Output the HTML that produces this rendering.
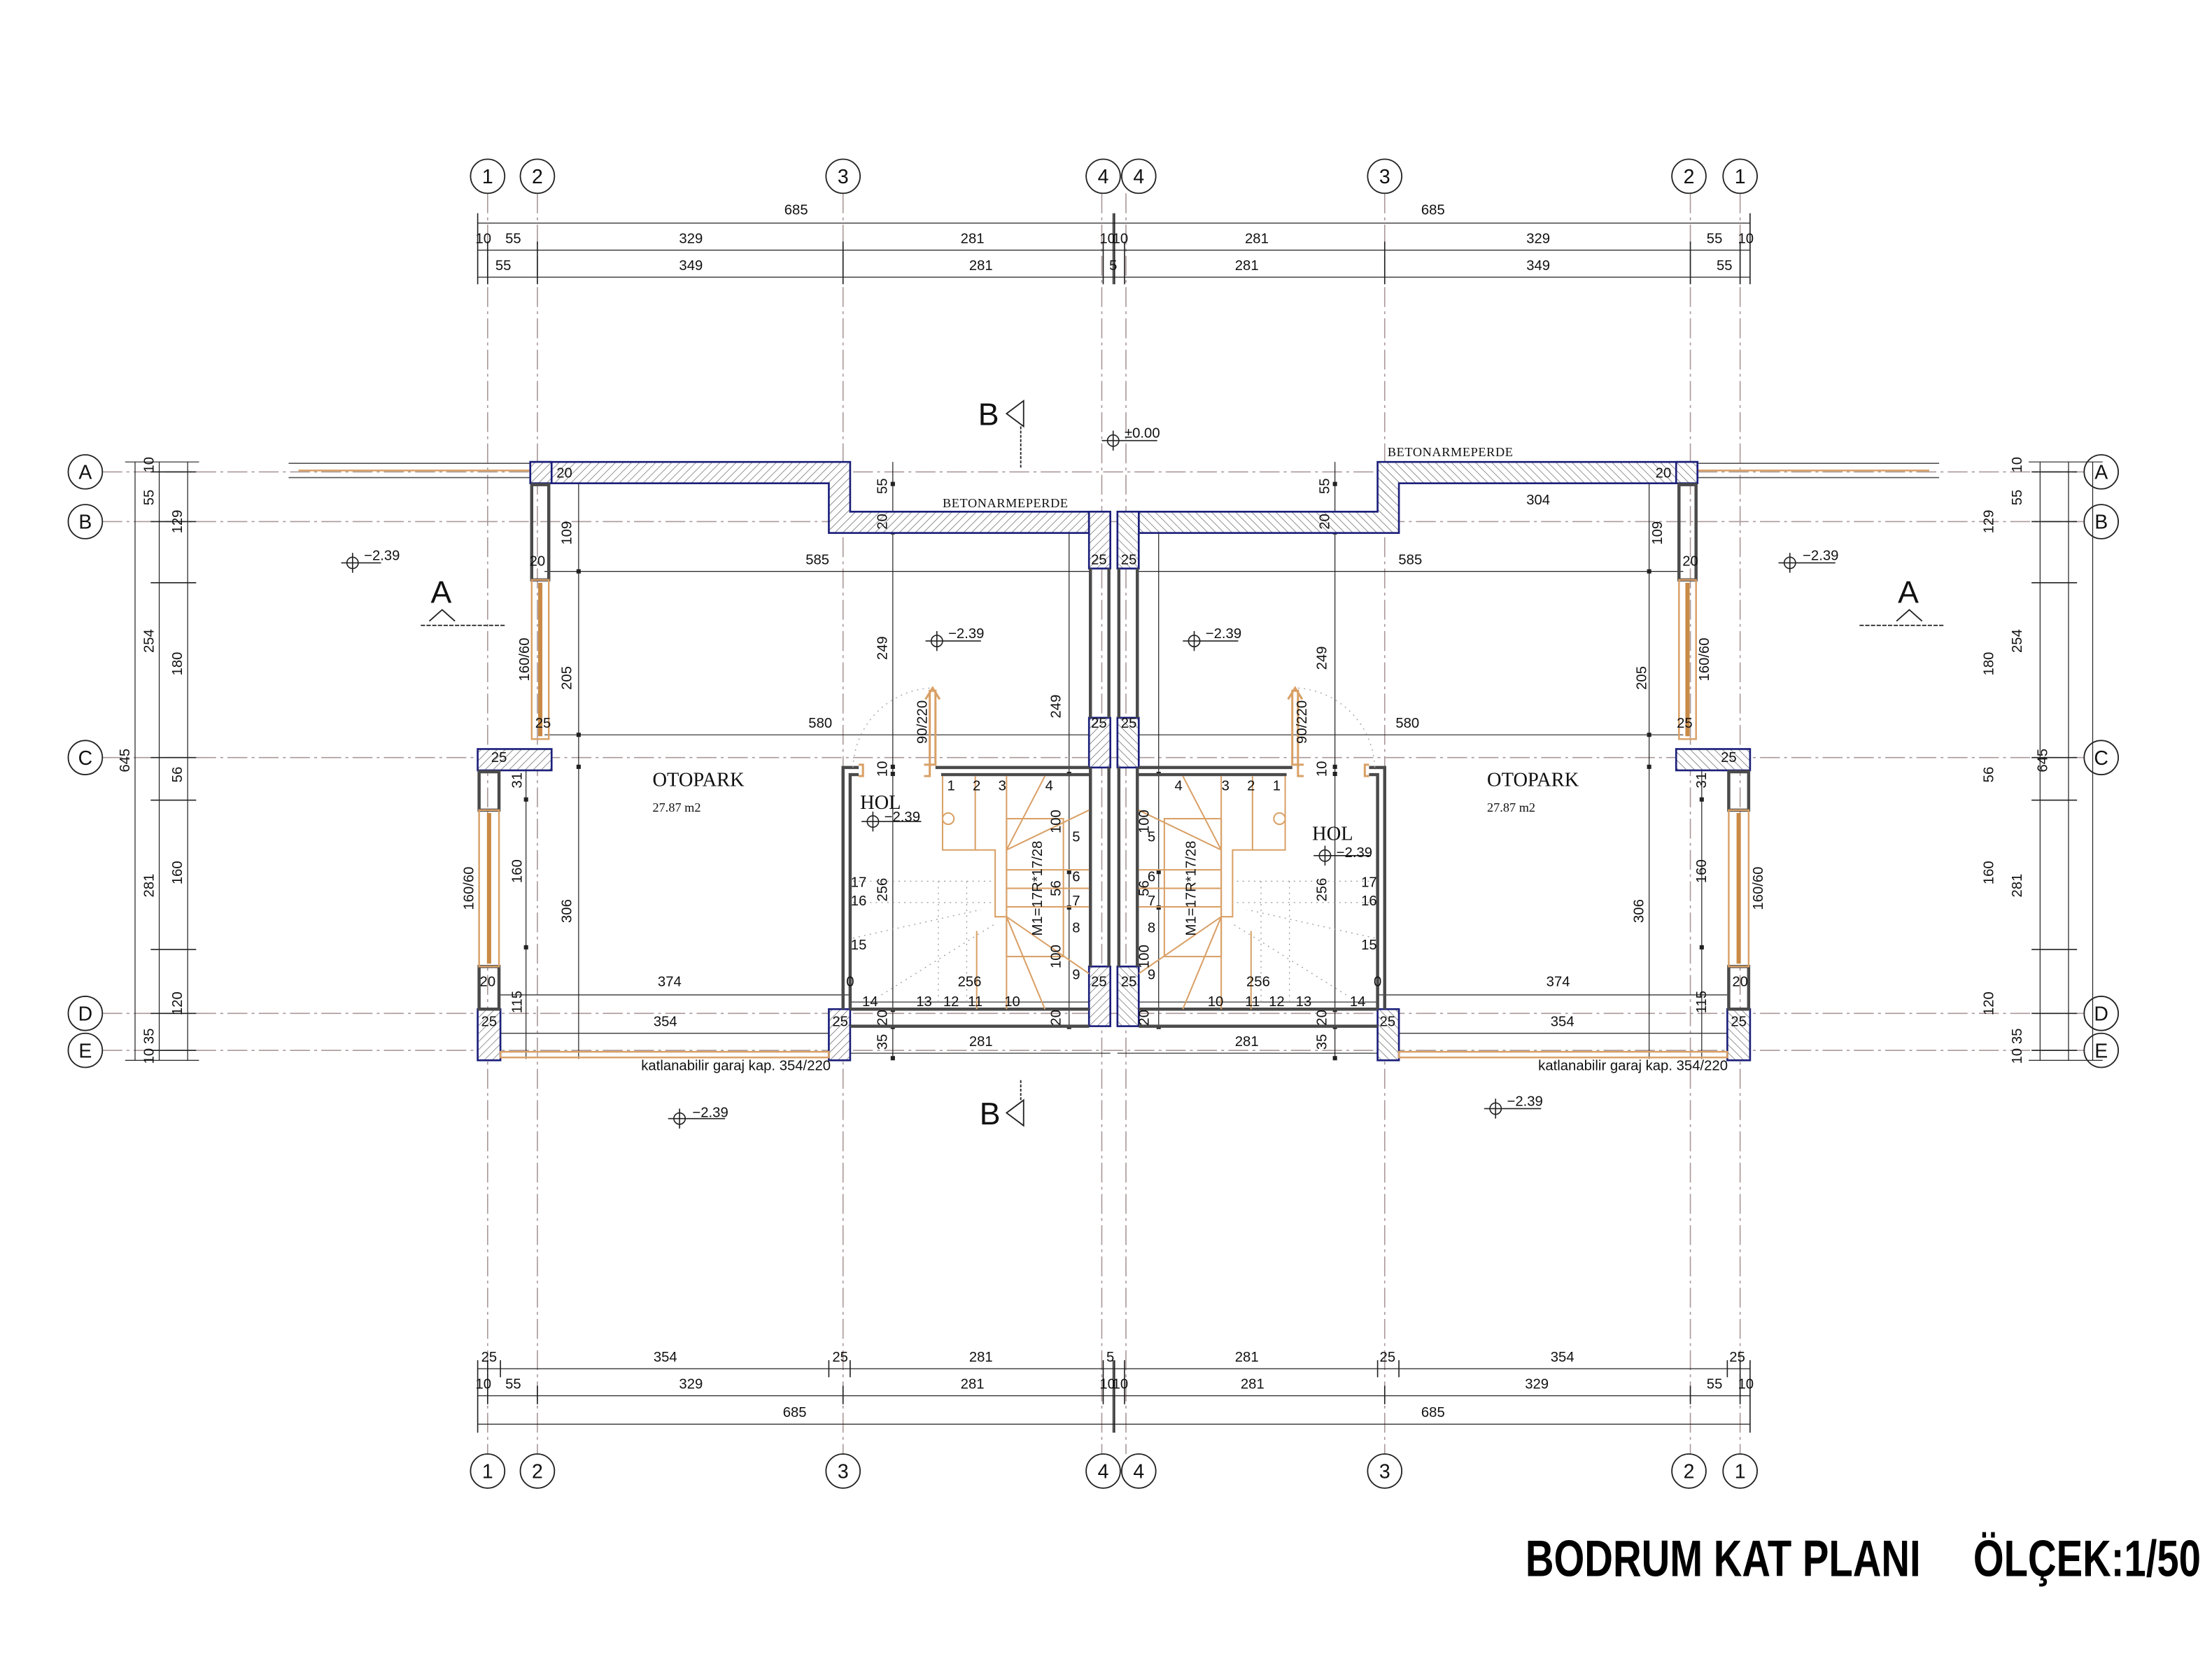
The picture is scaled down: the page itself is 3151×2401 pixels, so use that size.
<!DOCTYPE html>
<html><head><meta charset="utf-8">
<style>
html,body{margin:0;padding:0;background:#fff;}
svg{display:block}
.t{font-family:"Liberation Sans Narrow","Liberation Sans",sans-serif;font-size:10px;fill:#111}
.s{font-family:"Liberation Serif",serif;fill:#111}
.g{font-family:"Liberation Sans",sans-serif;font-size:14px;fill:#111}
</style></head><body>
<svg width="3151" height="2401" viewBox="0 0 1551 1182" preserveAspectRatio="none" xmlns="http://www.w3.org/2000/svg">
<defs>
<pattern id="h" width="4" height="4" patternUnits="userSpaceOnUse" patternTransform="rotate(45)">
<rect width="4" height="4" fill="#fff"/><line x1="0" y1="0" x2="0" y2="4" stroke="#888" stroke-width="0.9"/>
</pattern>
<g id="L">
 <!-- external lines -->
 <line x1="203" y1="326" x2="373" y2="326" stroke="#555" stroke-width="0.8"/>
 <line x1="203" y1="336" x2="373" y2="336" stroke="#555" stroke-width="0.8"/>
 <line x1="210" y1="331" x2="373" y2="331" stroke="#d9a066" stroke-width="1.2"/>
 <!-- interior dim lines -->
 <g stroke="#222" stroke-width="0.6" fill="none">
  <line x1="383" y1="402" x2="766" y2="402"/>
  <line x1="383" y1="517" x2="766" y2="517"/>
  <line x1="352" y1="700" x2="598" y2="700"/>
  <line x1="352" y1="727" x2="583" y2="727"/>
  <line x1="598" y1="741" x2="781" y2="741"/>
  <line x1="407" y1="340" x2="407" y2="745"/>
  <line x1="370" y1="542" x2="370" y2="745"/>
  <line x1="628" y1="325" x2="628" y2="745"/>
  <line x1="752" y1="375" x2="752" y2="722"/>
  <line x1="598" y1="705" x2="766" y2="705"/>
 </g>
 <g fill="#222">
  <rect x="405.5" y="400.5" width="3" height="3"/><rect x="405.5" y="515.5" width="3" height="3"/><rect x="405.5" y="538" width="3" height="3"/>
  <rect x="368.5" y="561" width="3" height="3"/><rect x="368.5" y="665" width="3" height="3"/>
  <rect x="626.5" y="339" width="3" height="3"/><rect x="626.5" y="373" width="3" height="3"/><rect x="626.5" y="538" width="3" height="3"/><rect x="626.5" y="543" width="3" height="3"/><rect x="626.5" y="709" width="3" height="3"/><rect x="626.5" y="721" width="3" height="3"/><rect x="626.5" y="743" width="3" height="3"/>
  <rect x="750.5" y="543" width="3" height="3"/><rect x="750.5" y="612" width="3" height="3"/><rect x="750.5" y="637" width="3" height="3"/><rect x="750.5" y="721" width="3" height="3"/>
 </g>
 <!-- hatched walls -->
 <g fill="url(#h)" stroke="#1b1f7a" stroke-width="1.3">
  <polygon points="373,325 598,325 598,360 766,360 766,375 583,375 583,340 373,340"/>
  <rect x="373" y="325" width="15" height="15"/>
  <rect x="766" y="360" width="15" height="40"/>
  <rect x="766" y="505" width="15" height="35"/>
  <rect x="766" y="680" width="15" height="42"/>
  <rect x="336" y="527" width="52" height="15"/>
  <rect x="336" y="710" width="16" height="36"/>
  <rect x="583" y="710" width="15" height="36"/>
 </g>
 <!-- gray walls -->
 <g fill="none" stroke="#4a4a4a" stroke-width="2.2">
  <rect x="374" y="341" width="12" height="67"/>
  <rect x="337" y="543" width="14" height="27"/>
  <rect x="337" y="680" width="14" height="30"/>
  <line x1="767" y1="400" x2="767" y2="505"/><line x1="780" y1="400" x2="780" y2="505"/>
  <line x1="767" y1="540" x2="767" y2="680"/><line x1="780" y1="540" x2="780" y2="680"/>
  <polyline points="604,540 593,540 593,710"/>
  <polyline points="604,545 598,545 598,710"/>
  <line x1="658" y1="540" x2="766" y2="540"/>
  <line x1="662" y1="545" x2="766" y2="545"/>
  <line x1="598" y1="710" x2="766" y2="710"/>
  <line x1="598" y1="722" x2="766" y2="722"/>
 </g>
 <!-- windows -->
 <g fill="none" stroke="#d9a066" stroke-width="1.2">
  <rect x="374" y="408" width="12" height="112"/>
  <rect x="337" y="570" width="14" height="110"/>
  <rect x="352" y="740" width="231" height="4"/>
 </g>
 <line x1="380" y1="410" x2="380" y2="518" stroke="#c98a45" stroke-width="3"/>
 <line x1="344" y1="572" x2="344" y2="678" stroke="#c98a45" stroke-width="3"/>
 <!-- door -->
 <g fill="none" stroke="#d9a066" stroke-width="1.5">
  <rect x="654" y="486" width="4" height="52"/>
  <path d="M651,492 L656,484 L661,492"/>
  <path d="M604,538 h3 v8 h-3"/>
  <path d="M650,538 h4 v8 h-4"/>
 </g>
 <path d="M600,540 A58,58 0 0 1 656,484" fill="none" stroke="#aaa" stroke-width="0.7" stroke-dasharray="1 3"/>
 <!-- stairs -->
 <g fill="none" stroke="#d9a066" stroke-width="1">
  <polyline points="663,546 663,598 700,598 700,645 708,645 708,598"/>
  <line x1="686" y1="546" x2="686" y2="598"/>
  <line x1="708" y1="546" x2="708" y2="598"/>
  <rect x="708" y="576" width="40" height="97"/>
  <line x1="708" y1="598" x2="735" y2="546"/>
  <line x1="708" y1="598" x2="766" y2="570"/>
  <line x1="708" y1="612" x2="766" y2="612"/>
  <line x1="708" y1="625" x2="766" y2="625"/>
  <line x1="708" y1="638" x2="766" y2="638"/>
  <line x1="708" y1="645" x2="766" y2="685"/>
  <line x1="708" y1="645" x2="735" y2="710"/>
  <line x1="708" y1="645" x2="708" y2="710"/>
  <line x1="687" y1="655" x2="687" y2="710"/>
  <circle cx="667" cy="576" r="4"/>
 </g>
 <g stroke="#999" stroke-width="0.6" stroke-dasharray="1 3" fill="none">
  <line x1="600" y1="620" x2="700" y2="620"/><line x1="600" y1="635" x2="700" y2="635"/>
  <line x1="600" y1="660" x2="690" y2="640"/><line x1="620" y1="700" x2="700" y2="650"/>
  <line x1="660" y1="620" x2="660" y2="705"/><line x1="680" y1="620" x2="680" y2="705"/>
 </g>
</g>
</defs>

<!-- grid lines -->
<g stroke="#a99" stroke-width="0.8" stroke-dasharray="14 3 2 3">
 <line x1="343" y1="136" x2="343" y2="1023"/><line x1="378" y1="136" x2="378" y2="1023"/>
 <line x1="593" y1="136" x2="593" y2="1023"/><line x1="775" y1="136" x2="775" y2="1023"/>
 <line x1="792" y1="136" x2="792" y2="1023"/><line x1="974" y1="136" x2="974" y2="1023"/>
 <line x1="1189" y1="136" x2="1189" y2="1023"/><line x1="1224" y1="136" x2="1224" y2="1023"/>
 <line x1="72" y1="332" x2="1466" y2="332"/><line x1="72" y1="367" x2="1466" y2="367"/>
 <line x1="72" y1="533" x2="1466" y2="533"/><line x1="72" y1="713" x2="1466" y2="713"/>
 <line x1="72" y1="739" x2="1466" y2="739"/>
</g>

<use href="#L"/>
<use href="#L" transform="matrix(-1 0 0 1 1567 0)"/>

<!-- grid circles -->
<g fill="#fff" stroke="#222" stroke-width="0.9">
 <circle cx="343" cy="124" r="12"/><circle cx="378" cy="124" r="12"/><circle cx="593" cy="124" r="12"/><circle cx="776" cy="124" r="12"/>
 <circle cx="801" cy="124" r="12"/><circle cx="974" cy="124" r="12"/><circle cx="1188" cy="124" r="12"/><circle cx="1224" cy="124" r="12"/>
 <circle cx="343" cy="1035" r="12"/><circle cx="378" cy="1035" r="12"/><circle cx="593" cy="1035" r="12"/><circle cx="776" cy="1035" r="12"/>
 <circle cx="801" cy="1035" r="12"/><circle cx="974" cy="1035" r="12"/><circle cx="1188" cy="1035" r="12"/><circle cx="1224" cy="1035" r="12"/>
 <circle cx="60" cy="332" r="12"/><circle cx="60" cy="367" r="12"/><circle cx="60" cy="533" r="12"/><circle cx="60" cy="713" r="12"/><circle cx="60" cy="739" r="12"/>
 <circle cx="1478" cy="332" r="12"/><circle cx="1478" cy="367" r="12"/><circle cx="1478" cy="533" r="12"/><circle cx="1478" cy="713" r="12"/><circle cx="1478" cy="739" r="12"/>
</g>
<g class="g" text-anchor="middle">
 <text x="343" y="129">1</text><text x="378" y="129">2</text><text x="593" y="129">3</text><text x="776" y="129">4</text>
 <text x="801" y="129">4</text><text x="974" y="129">3</text><text x="1188" y="129">2</text><text x="1224" y="129">1</text>
 <text x="343" y="1040">1</text><text x="378" y="1040">2</text><text x="593" y="1040">3</text><text x="776" y="1040">4</text>
 <text x="801" y="1040">4</text><text x="974" y="1040">3</text><text x="1188" y="1040">2</text><text x="1224" y="1040">1</text>
 <text x="60" y="337">A</text><text x="60" y="372">B</text><text x="60" y="538">C</text><text x="60" y="718">D</text><text x="60" y="744">E</text>
 <text x="1478" y="337">A</text><text x="1478" y="372">B</text><text x="1478" y="538">C</text><text x="1478" y="718">D</text><text x="1478" y="744">E</text>
</g>

<!-- exterior dimension lines -->
<g stroke="#222" stroke-width="0.6">
 <line x1="336" y1="157" x2="1231" y2="157"/><line x1="336" y1="176" x2="1231" y2="176"/><line x1="336" y1="195" x2="1231" y2="195"/>
 <line x1="336" y1="963" x2="1231" y2="963"/><line x1="336" y1="982" x2="1231" y2="982"/><line x1="336" y1="1002" x2="1231" y2="1002"/>
 <line x1="95" y1="325" x2="95" y2="746"/><line x1="112" y1="325" x2="112" y2="746"/><line x1="132" y1="325" x2="132" y2="746"/>
 <line x1="1472" y1="325" x2="1472" y2="746"/><line x1="1455" y1="325" x2="1455" y2="746"/><line x1="1435" y1="325" x2="1435" y2="746"/>
 <line x1="88" y1="325" x2="140" y2="325"/><line x1="88" y1="746" x2="140" y2="746"/>
 <line x1="1427" y1="325" x2="1479" y2="325"/><line x1="1427" y1="746" x2="1479" y2="746"/>
</g>
<g stroke="#222" stroke-width="0.8">
 <g id="tk">
 <line x1="336" y1="150" x2="336" y2="200"/><line x1="343" y1="170" x2="343" y2="200"/><line x1="378" y1="170" x2="378" y2="200"/>
 <line x1="593" y1="170" x2="593" y2="200"/><line x1="776" y1="170" x2="776" y2="200"/><line x1="783" y1="150" x2="783" y2="200"/>
 <line x1="336" y1="957" x2="336" y2="1008"/><line x1="343" y1="957" x2="343" y2="988"/><line x1="378" y1="975" x2="378" y2="988"/>
 <line x1="352" y1="957" x2="352" y2="969"/><line x1="583" y1="957" x2="583" y2="969"/><line x1="598" y1="957" x2="598" y2="969"/>
 <line x1="593" y1="975" x2="593" y2="988"/><line x1="776" y1="957" x2="776" y2="988"/><line x1="783" y1="957" x2="783" y2="1008"/>
 </g>
 <use href="#tk" transform="matrix(-1 0 0 1 1567 0)"/>
 <line x1="106" y1="332" x2="138" y2="332"/><line x1="106" y1="367" x2="138" y2="367"/><line x1="106" y1="410" x2="138" y2="410"/>
 <line x1="106" y1="533" x2="138" y2="533"/><line x1="106" y1="563" x2="138" y2="563"/><line x1="106" y1="668" x2="138" y2="668"/>
 <line x1="106" y1="713" x2="138" y2="713"/><line x1="106" y1="739" x2="138" y2="739"/>
 <line x1="1429" y1="332" x2="1461" y2="332"/><line x1="1429" y1="367" x2="1461" y2="367"/><line x1="1429" y1="410" x2="1461" y2="410"/>
 <line x1="1429" y1="533" x2="1461" y2="533"/><line x1="1429" y1="563" x2="1461" y2="563"/><line x1="1429" y1="668" x2="1461" y2="668"/>
 <line x1="1429" y1="713" x2="1461" y2="713"/><line x1="1429" y1="739" x2="1461" y2="739"/>
</g>

<!-- top/bottom dim text -->
<g class="t" text-anchor="middle">
 <text x="560" y="151">685</text><text x="1008" y="151">685</text>
 <text x="340" y="171">10</text><text x="361" y="171">55</text><text x="486" y="171">329</text><text x="684" y="171">281</text><text x="779" y="171">10</text>
 <text x="788" y="171">10</text><text x="884" y="171">281</text><text x="1082" y="171">329</text><text x="1206" y="171">55</text><text x="1228" y="171">10</text>
 <text x="354" y="190">55</text><text x="486" y="190">349</text><text x="690" y="190">281</text><text x="783" y="190">5</text>
 <text x="877" y="190">281</text><text x="1082" y="190">349</text><text x="1213" y="190">55</text>
 <text x="344" y="958">25</text><text x="468" y="958">354</text><text x="591" y="958">25</text><text x="690" y="958">281</text><text x="781" y="958">5</text>
 <text x="877" y="958">281</text><text x="976" y="958">25</text><text x="1099" y="958">354</text><text x="1222" y="958">25</text>
 <text x="340" y="977">10</text><text x="361" y="977">55</text><text x="486" y="977">329</text><text x="684" y="977">281</text><text x="779" y="977">10</text>
 <text x="788" y="977">10</text><text x="881" y="977">281</text><text x="1081" y="977">329</text><text x="1206" y="977">55</text><text x="1228" y="977">10</text>
 <text x="559" y="997">685</text><text x="1008" y="997">685</text>
 <!-- interior horizontal -->
 <text x="575" y="397">585</text><text x="992" y="397">585</text>
 <text x="577" y="512">580</text><text x="990" y="512">580</text>
 <text x="471" y="694">374</text><text x="1096" y="694">374</text>
 <text x="468" y="722">354</text><text x="1099" y="722">354</text>
 <text x="682" y="694">256</text><text x="885" y="694">256</text>
 <text x="690" y="736">281</text><text x="877" y="736">281</text>
 <text x="1082" y="355">304</text>
 <text x="397" y="336">20</text><text x="1170" y="336">20</text>
 <text x="378" y="398">20</text><text x="1189" y="398">20</text>
 <text x="382" y="512">25</text><text x="1185" y="512">25</text>
 <text x="351" y="536">25</text><text x="1216" y="536">25</text>
 <text x="343" y="694">20</text><text x="1224" y="694">20</text>
 <text x="344" y="722">25</text><text x="1223" y="722">25</text>
 <text x="591" y="722">25</text><text x="976" y="722">25</text>
 <text x="773" y="397">25</text><text x="794" y="397">25</text>
 <text x="773" y="512">25</text><text x="794" y="512">25</text>
 <text x="773" y="694">25</text><text x="794" y="694">25</text>
 <text x="598" y="694">0</text><text x="969" y="694">0</text>
 <!-- stair numbers -->
 <text x="669" y="556">1</text><text x="687" y="556">2</text><text x="705" y="556">3</text><text x="738" y="556">4</text>
 <text x="757" y="592">5</text><text x="757" y="620">6</text><text x="757" y="637">7</text><text x="757" y="656">8</text><text x="757" y="689">9</text>
 <text x="604" y="624">17</text><text x="604" y="637">16</text><text x="604" y="668">15</text>
 <text x="612" y="708">14</text><text x="650" y="708">13</text><text x="669" y="708">12</text><text x="686" y="708">11</text><text x="712" y="708">10</text>
 <text x="898" y="556">1</text><text x="880" y="556">2</text><text x="862" y="556">3</text><text x="829" y="556">4</text>
 <text x="810" y="592">5</text><text x="810" y="620">6</text><text x="810" y="637">7</text><text x="810" y="656">8</text><text x="810" y="689">9</text>
 <text x="963" y="624">17</text><text x="963" y="637">16</text><text x="963" y="668">15</text>
 <text x="955" y="708">14</text><text x="917" y="708">13</text><text x="898" y="708">12</text><text x="881" y="708">11</text><text x="855" y="708">10</text>
</g>

<!-- rotated dim text -->
<g class="t" text-anchor="middle">
 <text transform="translate(108,327) rotate(-90)">10</text>
 <text transform="translate(108,350) rotate(-90)">55</text>
 <text transform="translate(108,451) rotate(-90)">254</text>
 <text transform="translate(108,623) rotate(-90)">281</text>
 <text transform="translate(108,729) rotate(-90)">35</text>
 <text transform="translate(108,743) rotate(-90)">10</text>
 <text transform="translate(128,367) rotate(-90)">129</text>
 <text transform="translate(128,467) rotate(-90)">180</text>
 <text transform="translate(128,545) rotate(-90)">56</text>
 <text transform="translate(128,614) rotate(-90)">160</text>
 <text transform="translate(128,706) rotate(-90)">120</text>
 <text transform="translate(91,535) rotate(-90)">645</text>
 <text transform="translate(1422,327) rotate(-90)">10</text>
 <text transform="translate(1422,350) rotate(-90)">55</text>
 <text transform="translate(1422,451) rotate(-90)">254</text>
 <text transform="translate(1422,623) rotate(-90)">281</text>
 <text transform="translate(1422,729) rotate(-90)">35</text>
 <text transform="translate(1422,743) rotate(-90)">10</text>
 <text transform="translate(1402,367) rotate(-90)">129</text>
 <text transform="translate(1402,467) rotate(-90)">180</text>
 <text transform="translate(1402,545) rotate(-90)">56</text>
 <text transform="translate(1402,614) rotate(-90)">160</text>
 <text transform="translate(1402,706) rotate(-90)">120</text>
 <text transform="translate(1440,535) rotate(-90)">645</text>
 <!-- interior rotated left -->
 <text transform="translate(402,375) rotate(-90)">109</text>
 <text transform="translate(402,477) rotate(-90)">205</text>
 <text transform="translate(402,641) rotate(-90)">306</text>
 <text transform="translate(367,549) rotate(-90)">31</text>
 <text transform="translate(367,613) rotate(-90)">160</text>
 <text transform="translate(367,705) rotate(-90)">115</text>
 <text transform="translate(372,464) rotate(-90)">160/60</text>
 <text transform="translate(333,625) rotate(-90)">160/60</text>
 <text transform="translate(624,342) rotate(-90)">55</text>
 <text transform="translate(624,367) rotate(-90)">20</text>
 <text transform="translate(624,456) rotate(-90)">249</text>
 <text transform="translate(624,541) rotate(-90)">10</text>
 <text transform="translate(624,626) rotate(-90)">256</text>
 <text transform="translate(624,716) rotate(-90)">20</text>
 <text transform="translate(624,733) rotate(-90)">35</text>
 <text transform="translate(746,497) rotate(-90)">249</text>
 <text transform="translate(746,578) rotate(-90)">100</text>
 <text transform="translate(746,625) rotate(-90)">56</text>
 <text transform="translate(746,673) rotate(-90)">100</text>
 <text transform="translate(746,716) rotate(-90)">20</text>
 <text transform="translate(652,508) rotate(-90)">90/220</text>
 <text transform="translate(733,625) rotate(-90)">M1=17R*17/28</text>
 <!-- right interior rotated -->
 <text transform="translate(1169,375) rotate(-90)">109</text>
 <text transform="translate(1158,477) rotate(-90)">205</text>
 <text transform="translate(1156,641) rotate(-90)">306</text>
 <text transform="translate(1200,549) rotate(-90)">31</text>
 <text transform="translate(1200,613) rotate(-90)">160</text>
 <text transform="translate(1200,705) rotate(-90)">115</text>
 <text transform="translate(1202,464) rotate(-90)">160/60</text>
 <text transform="translate(1240,625) rotate(-90)">160/60</text>
 <text transform="translate(935,342) rotate(-90)">55</text>
 <text transform="translate(935,367) rotate(-90)">20</text>
 <text transform="translate(933,463) rotate(-90)">249</text>
 <text transform="translate(933,541) rotate(-90)">10</text>
 <text transform="translate(933,626) rotate(-90)">256</text>
 <text transform="translate(933,716) rotate(-90)">20</text>
 <text transform="translate(933,733) rotate(-90)">35</text>
 <text transform="translate(808,578) rotate(-90)">100</text>
 <text transform="translate(808,625) rotate(-90)">56</text>
 <text transform="translate(808,673) rotate(-90)">100</text>
 <text transform="translate(808,716) rotate(-90)">20</text>
 <text transform="translate(919,508) rotate(-90)">90/220</text>
 <text transform="translate(841,625) rotate(-90)">M1=17R*17/28</text>
</g>

<!-- labels -->
<g class="s">
 <text x="459" y="553" font-size="14">OTOPARK</text>
 <text x="459" y="571" font-size="9">27.87 m2</text>
 <text x="1046" y="553" font-size="14">OTOPARK</text>
 <text x="1046" y="571" font-size="9">27.87 m2</text>
 <text x="605" y="569" font-size="14">HOL</text>
 <text x="923" y="591" font-size="14">HOL</text>
 <text x="663" y="357" font-size="9" letter-spacing="0.3">BETONARMEPERDE</text>
 <text x="976" y="321" font-size="9" letter-spacing="0.3">BETONARMEPERDE</text>
</g>
<g class="t" font-size="7">
 <text x="451" y="753">katlanabilir garaj kap. 354/220</text>
 <text x="1082" y="753">katlanabilir garaj kap. 354/220</text>
</g>

<!-- level markers -->
<g id="lv" fill="none" stroke="#222" stroke-width="0.8">
 <circle cx="248" cy="396" r="4"/><line x1="240" y1="396" x2="268" y2="396"/><line x1="248" y1="389" x2="248" y2="403"/>
 <circle cx="659" cy="451" r="4"/><line x1="651" y1="451" x2="690" y2="451"/><line x1="659" y1="444" x2="659" y2="458"/>
 <circle cx="614" cy="578" r="4"/><line x1="606" y1="578" x2="648" y2="578"/><line x1="614" y1="571" x2="614" y2="585"/>
 <circle cx="478" cy="787" r="4"/><line x1="470" y1="787" x2="510" y2="787"/><line x1="478" y1="780" x2="478" y2="794"/>
 <circle cx="783" cy="310" r="4"/><line x1="775" y1="310" x2="814" y2="310"/><line x1="783" y1="303" x2="783" y2="317"/>
 <circle cx="840" cy="451" r="4"/><line x1="832" y1="451" x2="871" y2="451"/><line x1="840" y1="444" x2="840" y2="458"/>
 <circle cx="932" cy="602" r="4"/><line x1="924" y1="602" x2="964" y2="602"/><line x1="932" y1="595" x2="932" y2="609"/>
 <circle cx="1052" cy="780" r="4"/><line x1="1044" y1="780" x2="1084" y2="780"/><line x1="1052" y1="773" x2="1052" y2="787"/>
 <circle cx="1259" cy="396" r="4"/><line x1="1251" y1="396" x2="1291" y2="396"/><line x1="1259" y1="389" x2="1259" y2="403"/>
</g>
<g class="t" font-size="9">
 <text x="256" y="394">−2.39</text><text x="667" y="449">−2.39</text><text x="622" y="578">−2.39</text>
 <text x="487" y="786">−2.39</text><text x="791" y="308">±0.00</text><text x="848" y="449">−2.39</text>
 <text x="940" y="603">−2.39</text><text x="1060" y="778">−2.39</text><text x="1268" y="394">−2.39</text>
</g>

<!-- section markers -->
<g fill="none" stroke="#222" stroke-width="0.9">
 <path d="M708,291 L720,282 L720,300 Z"/>
 <line x1="718" y1="300" x2="718" y2="330" stroke-dasharray="2 1"/>
 <path d="M708,783 L720,774 L720,792 Z"/>
 <line x1="718" y1="760" x2="718" y2="774" stroke-dasharray="2 1"/>
 <path d="M302,437 L311,429 L320,437"/>
 <line x1="296" y1="440" x2="355" y2="440" stroke-dasharray="3 1"/>
 <path d="M1334,437 L1343,429 L1352,437"/>
 <line x1="1308" y1="440" x2="1368" y2="440" stroke-dasharray="3 1"/>
</g>
<g font-family="Liberation Sans, sans-serif" font-size="22" fill="#111">
 <text x="688" y="299">B</text><text x="689" y="791">B</text>
 <text x="303" y="424">A</text><text x="1335" y="424">A</text>
</g>

<!-- title -->
<text x="1073" y="1109" font-family="Liberation Sans Narrow, Liberation Sans, sans-serif" font-weight="bold" font-size="36" textLength="278" lengthAdjust="spacingAndGlyphs" fill="#000">BODRUM KAT PLANI</text>
<text x="1388" y="1109" font-family="Liberation Sans Narrow, Liberation Sans, sans-serif" font-weight="bold" font-size="36" textLength="160" lengthAdjust="spacingAndGlyphs" fill="#000">ÖLÇEK:1/50</text>
</svg>
</body></html>
